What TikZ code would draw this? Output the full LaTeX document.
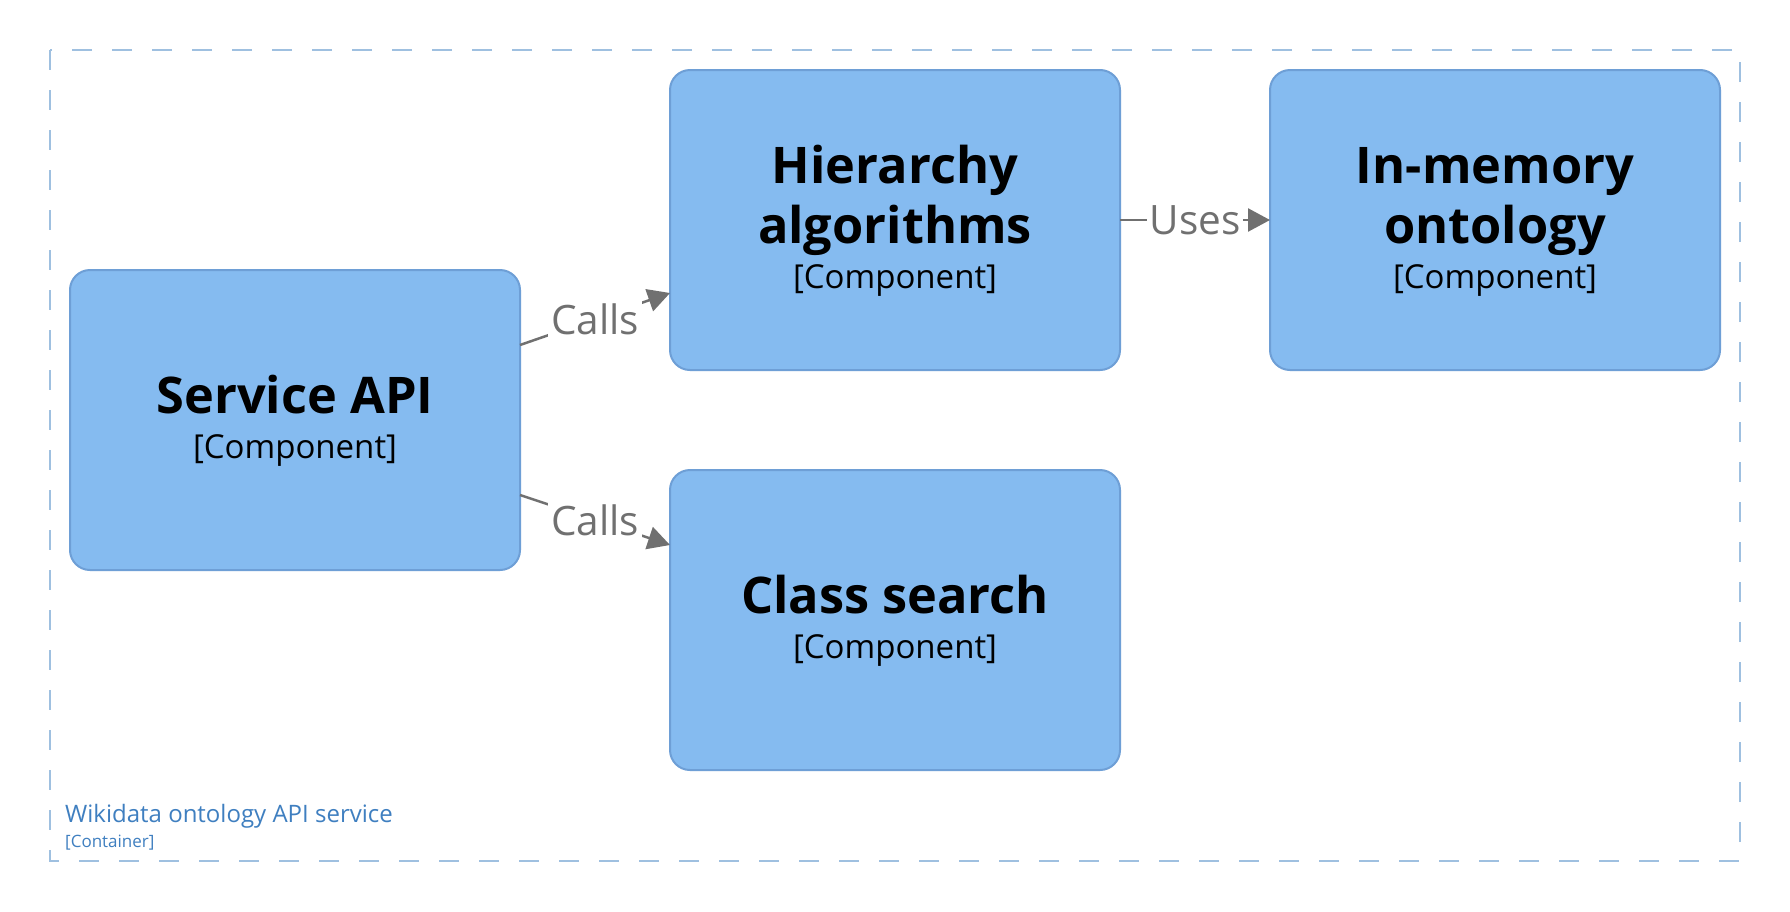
\documentclass[tikz,border=0pt]{standalone}
\usepackage{fontspec}
\setmainfont{Open Sans}
\usetikzlibrary{arrows.meta}
\definecolor{compfill}{HTML}{85BBF0}
\definecolor{compdraw}{HTML}{6E9FD6}
\definecolor{bnd}{HTML}{9FC0E0}
\definecolor{bndtext}{HTML}{3F7FC0}
\definecolor{rel}{HTML}{707070}
\begin{document}
\begin{tikzpicture}[x=1pt,y=-1pt,
 comp/.style={draw=compdraw, line width=2pt, fill=compfill, rounded corners=20pt, minimum width=450pt, minimum height=300pt, inner sep=0pt, outer sep=0pt},
 title/.style={font=\fontsize{50.5}{60}\selectfont\bfseries, anchor=base, inner sep=0pt},
 meta/.style={font=\fontsize{33}{40}\selectfont, anchor=base, inner sep=0pt},
 relline/.style={draw=rel, line width=2.5pt, -{Triangle[length=22pt,width=23pt]}},
 rellabel/.style={font=\fontsize{40.5}{46}\selectfont, text=rel, fill=white, inner sep=3pt},
 bndlabel/.style={text=bndtext, anchor=base west, inner sep=0pt}]
\useasboundingbox (0,0) rectangle (1790,911);
\fill[white] (0,0) rectangle (1790,911);
\draw[bnd, line width=2pt, dash pattern=on 20pt off 20pt] (50,50) rectangle (1740,861);
\node[bndlabel, font=\fontsize{24}{28}\selectfont] (bname) at (65,822) {Wikidata ontology API service};
\node[bndlabel, font=\fontsize{17}{20}\selectfont] (btype) at (65,847) {[Container]};

\node[comp] (sapi) at (295,420) {};
\node[comp] (hier) at (895,220) {};
\node[comp] (mem) at (1495,220) {};
\node[comp] (cls) at (895,620) {};

\node[title] (sapiT) at (295,413) {Service API};
\node[meta] (sapiM) at (295,458) {[Component]};

\node[title] (hierT1) at (895,183) {Hierarchy};
\node[title] (hierT2) at (895,243) {algorithms};
\node[meta] (hierM) at (895,288) {[Component]};

\node[title] (memT1) at (1495,183) {In-memory};
\node[title] (memT2) at (1495,243) {ontology};
\node[meta] (memM) at (1495,288) {[Component]};

\node[title] (clsT) at (895,613) {Class search};
\node[meta] (clsM) at (895,658) {[Component]};

\draw[relline] ([yshift=75pt]sapi.east) -- node[rellabel] (l1) {Calls} ([yshift=-73pt]hier.west);
\draw[relline] ([yshift=-75pt]sapi.east) -- node[rellabel] (l2) {Calls} ([yshift=75pt]cls.west);
\draw[relline] (hier.east) -- node[rellabel] (l3) {Uses} (mem.west);
\end{tikzpicture}
\end{document}
